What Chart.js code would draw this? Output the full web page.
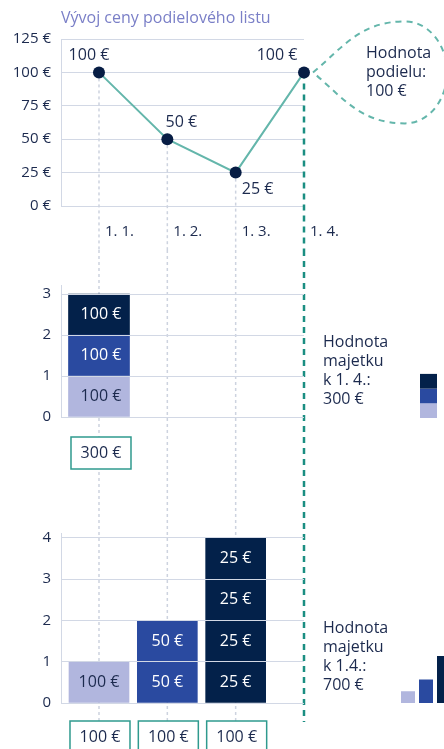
<!DOCTYPE html>
<html>
<head>
<meta charset="utf-8">
<script src="https://cdn.jsdelivr.net/npm/chart.js@4.4.1/dist/chart.umd.min.js"></script>
<style>
  body { margin: 0; background: #fff; }
  .wrap { position: relative; width: 444px; height: 749px; overflow: hidden; }
  canvas { position: absolute; left: 0; }
</style>
</head>
<body>
<div class="wrap">
  <canvas id="priceChart" width="444" height="250" style="top:0"></canvas>
  <canvas id="lumpChart" width="444" height="240" style="top:250px"></canvas>
  <canvas id="monthlyChart" width="444" height="259" style="top:490px"></canvas>
</div>
<script>
// dáta
const title = 'Vývoj ceny podielového listu';
const dates = ['1. 1.', '1. 2.', '1. 3.', '1. 4.'];
const prices = [100, 50, 25, 100];
const priceTicks = [0, 25, 50, 75, 100, 125];

const lumpShares = [1, 1, 1];        // 3 podiely kúpené naraz 1. 1.
const lumpInvested = [300];
const lumpTicks = [0, 1, 2, 3];
const lumpText = ['Hodnota', 'majetku', 'k 1. 4.:', '300 €'];

const monthlyShares = [1, 2, 4];     // podiely kúpené 1. 1., 1. 2., 1. 3.
const monthlyInvested = [100, 100, 100];
const monthlyTicks = [0, 1, 2, 3, 4];
const monthlyText = ['Hodnota', 'majetku', 'k 1.4.:', '700 €'];

const bubbleText = ['Hodnota', 'podielu:', '100 €'];

// farby
const NAVY = '#1c2a4e';
const DARK = '#03214a';
const BLUE = '#2a4aa0';
const LIGHT = '#b1b6de';
const TEAL = '#64b6ab';
const TEAL_DARK = '#1b8e82';
const BOX = '#2f9a8e';
const GRID = '#d2d8e5';
const DOTS = '#cdd3df';
const PURPLE = '#7a7fc7';
const segColors = [LIGHT, BLUE, DARK];

Chart.defaults.font.family = "'Open Sans', sans-serif";
Chart.defaults.font.size = 15;
Chart.defaults.color = NAVY;
Chart.defaults.animation = false;
Chart.defaults.plugins.legend.display = false;
Chart.defaults.plugins.tooltip.enabled = false;

const euro = v => v + ' €';
const FONT = "16px 'Open Sans', sans-serif";

function xAxis(show) {
  return {
    type: 'linear', min: 0.444, max: 4, display: show, stacked: true, offset: false,
    afterBuildTicks: s => { s.ticks = dates.map((d, i) => ({ value: i + 1 })); },
    afterFit: s => { s.height = show ? 30 : 0; },
    grid: { display: false, drawTicks: false, offset: false },
    border: { display: false },
    ticks: { align: 'start', labelOffset: 6, padding: 17, maxRotation: 0, autoSkip: false,
             callback: v => dates[v - 1] }
  };
}

function yAxis(max, ticks, fmt, z) {
  return {
    min: 0, max: max, stacked: true,
    afterBuildTicks: s => { s.ticks = ticks.map(v => ({ value: v })); },
    afterFit: s => { s.width = 60; },
    grid: { color: GRID, drawTicks: false, z: z },
    border: { display: true, color: GRID, z: z },
    ticks: { padding: 10, callback: fmt }
  };
}

// zvislé pomocné čiary (bodkované + tyrkysová čiarkovaná pri 1. 4.)
function drawGuides(chart, fromY, toY) {
  const ctx = chart.ctx;
  const xs = chart.scales.x;
  dates.forEach((d, i) => {
    const x = xs.getPixelForValue(i + 1);
    ctx.save();
    ctx.beginPath();
    if (i === dates.length - 1) {
      ctx.strokeStyle = TEAL_DARK; ctx.lineWidth = 2.5; ctx.setLineDash([6, 5]);
    } else {
      ctx.strokeStyle = DOTS; ctx.lineWidth = 1.5; ctx.setLineDash([3, 3]);
    }
    ctx.moveTo(x, fromY(i));
    ctx.lineTo(x, toY);
    ctx.stroke();
    ctx.restore();
  });
}

function drawText(ctx, text, x, y, color, align) {
  ctx.save();
  ctx.font = FONT;
  ctx.fillStyle = color;
  ctx.textAlign = align || 'center';
  ctx.textBaseline = 'middle';
  ctx.fillText(text, x, y);
  ctx.restore();
}

function drawBox(ctx, text, cx, top) {
  ctx.save();
  ctx.fillStyle = '#fff';
  ctx.strokeStyle = BOX;
  ctx.lineWidth = 1.5;
  ctx.fillRect(cx - 30, top, 60, 32);
  ctx.strokeRect(cx - 30, top, 60, 32);
  ctx.restore();
  drawText(ctx, text, cx, top + 16, NAVY);
}

function drawSideText(ctx, lines, x, bottom) {
  lines.forEach((t, k) => drawText(ctx, t, x, bottom - 75 + k * 19, NAVY, 'left'));
}

// 1) vývoj ceny
const priceLabelShift = [[-10, -17], [14, -17], [22, 17], [-27, -17]];
const pricePlugin = {
  id: 'pricePlugin',
  beforeDatasetsDraw(chart) {
    const ctx = chart.ctx;
    const ys = chart.scales.y;
    const xs = chart.scales.x;
    drawGuides(chart, i => ys.getPixelForValue(prices[i]), chart.height);

    // bublina
    const last = prices.length - 1;
    const px = xs.getPixelForValue(last + 1);
    const py = ys.getPixelForValue(prices[last]);
    const tx = px + 9, cx = px + 101;
    ctx.save();
    ctx.strokeStyle = TEAL; ctx.lineWidth = 2; ctx.setLineDash([6, 5]);
    ctx.beginPath();
    ctx.moveTo(tx, py);
    ctx.bezierCurveTo(tx + 30, py - 25, cx - 45, py - 51, cx, py - 51);
    ctx.ellipse(cx, py, 42, 51, 0, -Math.PI / 2, Math.PI / 2);
    ctx.bezierCurveTo(cx - 45, py + 51, tx + 30, py + 25, tx, py);
    ctx.stroke();
    ctx.restore();

    drawText(ctx, title, chart.chartArea.left, 18, PURPLE, 'left');
  },
  afterDatasetsDraw(chart) {
    const ctx = chart.ctx;
    const pts = chart.getDatasetMeta(0).data;
    pts.forEach((p, i) => {
      drawText(ctx, euro(prices[i]), p.x + priceLabelShift[i][0], p.y + priceLabelShift[i][1], NAVY);
    });
    const lp = pts[pts.length - 1];
    bubbleText.forEach((t, k) => drawText(ctx, t, lp.x + 62, lp.y - 19 + k * 19, NAVY, 'left'));
  }
};

new Chart(document.getElementById('priceChart'), {
  type: 'line',
  data: {
    datasets: [{
      data: prices.map((p, i) => ({ x: i + 1, y: p })),
      borderColor: TEAL, borderWidth: 2, tension: 0, clip: false,
      pointRadius: 6, pointBackgroundColor: '#071d44', pointBorderColor: '#071d44', pointBorderWidth: 0
    }]
  },
  options: {
    responsive: false,
    layout: { padding: { top: 39, left: 1, right: 140, bottom: 14 } },
    scales: { x: xAxis(true), y: yAxis(125, priceTicks, v => euro(v), 0) }
  },
  plugins: [pricePlugin]
});

// 2) jednorazová investícia
const lumpPlugin = {
  id: 'lumpPlugin',
  beforeDatasetsDraw(chart) {
    drawGuides(chart, () => 0, chart.height);
  },
  afterDatasetsDraw(chart) {
    const ctx = chart.ctx;
    const area = chart.chartArea;
    chart.data.datasets.forEach((ds, k) => {
      chart.getDatasetMeta(k).data.forEach(bar => {
        drawText(ctx, euro(prices[0]), bar.x + 2, (bar.y + bar.base) / 2,
                 ds.backgroundColor === LIGHT ? NAVY : '#fff');
      });
    });
    lumpInvested.forEach((v, i) => drawBox(ctx, euro(v), chart.scales.x.getPixelForValue(i + 1) + 2, area.bottom + 20));
    drawSideText(ctx, lumpText, area.right + 19, area.bottom);
    // ikonka
    let y = area.bottom + 1;
    lumpShares.forEach((s, k) => {
      ctx.fillStyle = segColors[k];
      ctx.fillRect(area.right + 116, y - s * 14.7, 17, s * 14.7);
      y -= s * 14.7;
    });
  }
};

new Chart(document.getElementById('lumpChart'), {
  type: 'bar',
  data: {
    datasets: lumpShares.map((s, k) => ({
      data: [{ x: 1, y: s }], backgroundColor: segColors[k], barThickness: 61, stack: 'lump'
    }))
  },
  options: {
    responsive: false,
    layout: { padding: { top: 35, left: 1, right: 140, bottom: 73 } },
    scales: { x: xAxis(false), y: yAxis(3.22, lumpTicks, v => v, 1) }
  },
  plugins: [lumpPlugin]
});

// 3) pravidelná investícia
const monthlyPlugin = {
  id: 'monthlyPlugin',
  beforeDatasetsDraw(chart) {
    drawGuides(chart, () => 0, chart.chartArea.bottom + 19);
  },
  afterDatasetsDraw(chart) {
    const ctx = chart.ctx;
    const area = chart.chartArea;
    const ys = chart.scales.y;
    chart.getDatasetMeta(0).data.forEach((bar, i) => {
      for (let u = 0; u < monthlyShares[i]; u++) {
        drawText(ctx, euro(prices[i]), bar.x, ys.getPixelForValue(u + 0.5), i === 0 ? NAVY : '#fff');
      }
    });
    monthlyInvested.forEach((v, i) => drawBox(ctx, euro(v), chart.scales.x.getPixelForValue(i + 1) + 1, area.bottom + 18));
    drawSideText(ctx, monthlyText, area.right + 19, area.bottom);
    // ikonka
    monthlyShares.forEach((s, i) => {
      ctx.fillStyle = segColors[i];
      ctx.fillRect(area.right + 97 + i * 18, area.bottom - s * 11.75, 14, s * 11.75);
    });
  }
};

new Chart(document.getElementById('monthlyChart'), {
  type: 'bar',
  data: {
    datasets: [{
      data: monthlyShares.map((s, i) => ({ x: i + 1, y: s })),
      backgroundColor: segColors, barThickness: 60
    }]
  },
  options: {
    responsive: false,
    layout: { padding: { top: 43, left: 1, right: 140, bottom: 46 } },
    scales: { x: xAxis(false), y: yAxis(4.12, monthlyTicks, v => v, 1) }
  },
  plugins: [monthlyPlugin]
});
</script>
</body>
</html>
